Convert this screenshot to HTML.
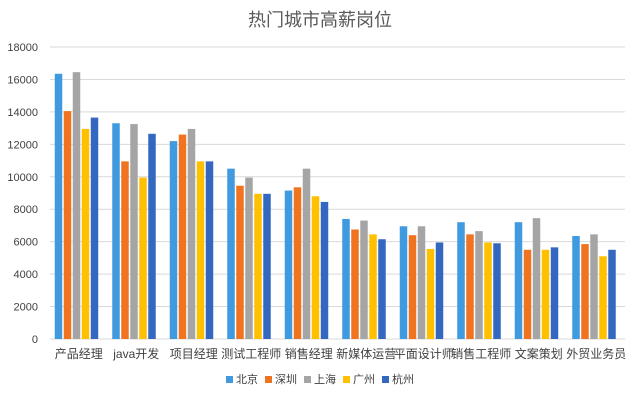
<!DOCTYPE html>
<html><head><meta charset="utf-8"><style>
body{margin:0;background:#fff}
</style></head><body>
<svg width="640" height="400" xmlns="http://www.w3.org/2000/svg" font-family="Liberation Sans, Noto Sans CJK SC, sans-serif">
<rect width="640" height="400" fill="#fff"/>
<text x="320" y="26" text-anchor="middle" font-size="18" fill="#595959">热门城市高薪岗位</text>
<g id="grid" stroke="#d9d9d9" stroke-width="1"></g>
<g id="bars"></g>
<g id="labels" font-size="11" fill="#404040"></g>
<g font-size="11" fill="#404040">
<rect x="226" y="376" width="7" height="7" fill="#3f9ae0"/><text x="236" y="383">北京</text>
<rect x="265" y="376" width="7" height="7" fill="#f0731f"/><text x="275" y="383">深圳</text>
<rect x="304" y="376" width="7" height="7" fill="#a5a5a5"/><text x="314" y="383">上海</text>
<rect x="343" y="376" width="7" height="7" fill="#ffc000"/><text x="353" y="383">广州</text>
<rect x="382" y="376" width="7" height="7" fill="#3468c0"/><text x="392" y="383">杭州</text>
</g>
<script>
var ns="http://www.w3.org/2000/svg";
function el(p,t,a,txt){var e=document.createElementNS(ns,t);for(var k in a)e.setAttribute(k,a[k]);if(txt)e.textContent=txt;document.getElementById(p).appendChild(e);}
var y0=339,sc=(339-47)/18000;
for(var v=0;v<=18000;v+=2000){var y=y0-v*sc;el('grid','line',{x1:50,x2:625,y1:y,y2:y});el('labels','text',{x:38,y:y+4,'text-anchor':'end'},String(v));}
var cats=["产品经理","java开发","项目经理","测试工程师","销售经理","新媒体运营","平面设计师","销售工程师","文案策划","外贸业务员"];
var d=[[16350,14050,16450,12950,13650],[13300,10950,13250,9950,12650],[12200,12600,12950,10950,10950],[10500,9450,9950,8950,8950],[9150,9350,10500,8800,8450],[7400,6750,7300,6450,6150],[6950,6400,6950,5550,5950],[7200,6450,6650,5950,5900],[7200,5500,7450,5500,5650],[6350,5850,6450,5100,5500]];
var col=["#3f9ae0","#f0731f","#a5a5a5","#ffc000","#3468c0"];
for(var i=0;i<10;i++){var c=50+57.5*(i+0.5);
for(var j=0;j<5;j++){var h=d[i][j]*sc;el('bars','rect',{x:c-24+j*9,y:y0-h,width:7.5,height:h,fill:col[j]});}
el('labels','text',{x:c,y:358,'text-anchor':'middle','font-size':12},cats[i]);}
</script>
</svg>
</body></html>
